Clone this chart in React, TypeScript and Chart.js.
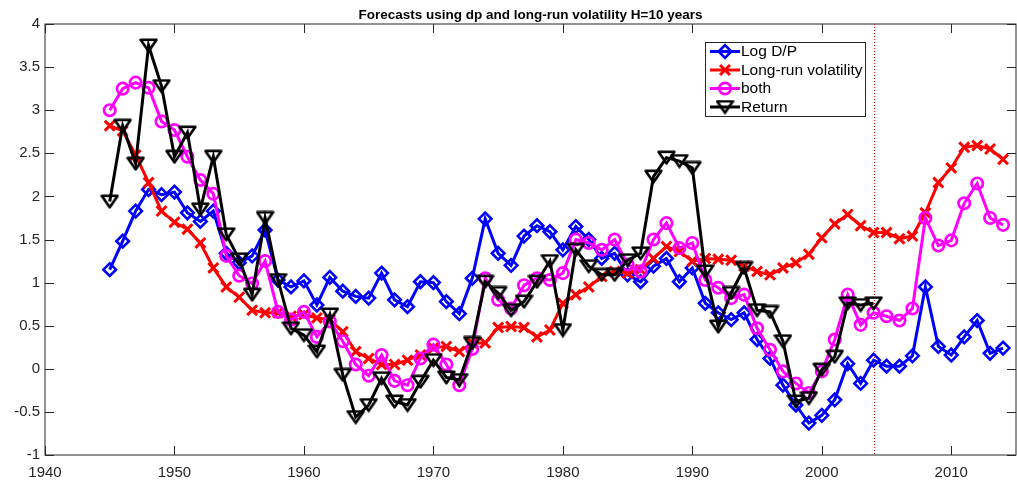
import React, { useEffect, useRef } from 'react';
import { Chart, registerables } from 'chart.js';
import { drawPoint } from 'chart.js/helpers';

Chart.register(...registerables);

const TITLE = 'Forecasts using dp and long-run volatility H=10 years';

const years = [
  1945, 1946, 1947, 1948, 1949, 1950, 1951, 1952, 1953, 1954,
  1955, 1956, 1957, 1958, 1959, 1960, 1961, 1962, 1963, 1964,
  1965, 1966, 1967, 1968, 1969, 1970, 1971, 1972, 1973, 1974,
  1975, 1976, 1977, 1978, 1979, 1980, 1981, 1982, 1983, 1984,
  1985, 1986, 1987, 1988, 1989, 1990, 1991, 1992, 1993, 1994,
  1995, 1996, 1997, 1998, 1999, 2000, 2001, 2002, 2003, 2004,
  2005, 2006, 2007, 2008, 2009, 2010, 2011, 2012, 2013, 2014,
];

const logDP = [
  1.15, 1.48, 1.83, 2.08, 2.02, 2.05, 1.81, 1.71, 1.83, 1.34,
  1.23, 1.31, 1.61, 1.03, 0.95, 1.02, 0.74, 1.06, 0.90, 0.84,
  0.82, 1.11, 0.80, 0.72, 1.01, 1.00, 0.78, 0.64, 1.05, 1.74,
  1.34, 1.20, 1.54, 1.66, 1.59, 1.38, 1.65, 1.50, 1.28, 1.34,
  1.09, 1.01, 1.19, 1.28, 1.01, 1.17, 0.76, 0.65, 0.57, 0.65,
  0.34, 0.12, -0.19, -0.42, -0.63, -0.54, -0.36, 0.06, -0.17, 0.10,
  0.03, 0.03, 0.15, 0.95, 0.26, 0.16, 0.37, 0.56, 0.18, 0.24,
];

const longRunVol = [
  2.82, 2.76, 2.48, 2.16, 1.83, 1.70, 1.62, 1.46, 1.17, 0.95,
  0.83, 0.68, 0.65, 0.65, 0.61, 0.63, 0.59, 0.57, 0.43, 0.20,
  0.12, 0.05, 0.05, 0.10, 0.16, 0.24, 0.26, 0.20, 0.30, 0.30,
  0.48, 0.49, 0.48, 0.37, 0.45, 0.76, 0.86, 0.95, 1.07, 1.13,
  1.11, 1.15, 1.28, 1.42, 1.36, 1.25, 1.28, 1.27, 1.26, 1.19,
  1.13, 1.09, 1.17, 1.23, 1.33, 1.52, 1.68, 1.79, 1.66, 1.58,
  1.58, 1.51, 1.54, 1.81, 2.16, 2.33, 2.57, 2.59, 2.55, 2.43,
];

const both = [
  3.00, 3.25, 3.32, 3.26, 2.87, 2.77, 2.46, 2.19, 2.03, 1.31,
  1.08, 0.99, 1.25, 0.66, 0.57, 0.66, 0.37, 0.55, 0.32, 0.05,
  -0.08, 0.16, -0.14, -0.19, 0.12, 0.28, 0.05, -0.19, 0.23, 1.05,
  0.80, 0.70, 0.97, 1.05, 1.03, 1.11, 1.50, 1.46, 1.38, 1.50,
  1.21, 1.13, 1.50, 1.69, 1.40, 1.46, 1.03, 0.94, 0.82, 0.86,
  0.47, 0.22, -0.03, -0.17, -0.28, -0.03, 0.34, 0.86, 0.51, 0.65,
  0.61, 0.56, 0.70, 1.75, 1.43, 1.49, 1.92, 2.15, 1.75, 1.67,
];

// Return series: 1945..2004
const returns = [
  1.94, 2.82, 2.38, 3.75, 3.28, 2.46, 2.74, 1.85, 2.46, 1.56,
  1.27, 0.86, 1.75, 1.03, 0.47, 0.39, 0.20, 0.63, -0.07, -0.56,
  -0.42, -0.11, -0.38, -0.42, -0.15, 0.10, -0.10, -0.13, 0.30, 1.01,
  0.88, 0.68, 0.78, 1.01, 1.25, 0.45, 1.38, 1.19, 1.09, 1.09,
  1.26, 1.34, 2.23, 2.45, 2.41, 2.33, 1.13, 0.49, 0.88, 1.17,
  0.68, 0.66, 0.32, -0.38, -0.34, -0.01, 0.14, 0.76, 0.74, 0.76,
];

const xTickValues = [1940, 1950, 1960, 1970, 1980, 1990, 2000, 2010];
const yTickValues = [-1, -0.5, 0, 0.5, 1, 1.5, 2, 2.5, 3, 3.5, 4];
const xMin = 1940;
const xMax = 2015;
const yMin = -1;
const yMax = 4;
const cutoffYear = 2004;

const seriesNames = ['Log D/P', 'Long-run volatility', 'both', 'Return'];

const FONT = '"Liberation Sans", Arial, Helvetica, sans-serif';
const AXIS_COLOR = '#262626';

function makeTriangle(): HTMLCanvasElement {
  const c = document.createElement('canvas');
  c.width = 19;
  c.height = 15;
  const g = c.getContext('2d')!;
  g.strokeStyle = '#000000';
  g.lineWidth = 2.6;
  g.lineJoin = 'round';
  g.beginPath();
  g.moveTo(1.6, 1.8);
  g.lineTo(17.4, 1.8);
  g.lineTo(9.5, 13.3);
  g.closePath();
  g.stroke();
  return c;
}

const zip = (xs: number[], ys: number[]) => ys.map((v, i) => ({ x: xs[i], y: v }));

const decorPlugin = {
  id: 'decor',
  beforeDatasetsDraw(chart: any) {
    const { ctx, chartArea: a, scales } = chart;
    const px = Math.round(scales.x.getPixelForValue(cutoffYear)) + 0.5;
    ctx.save();
    ctx.strokeStyle = '#ff0000';
    ctx.lineWidth = 1;
    ctx.setLineDash([1, 2]);
    ctx.beginPath();
    ctx.moveTo(px, a.top);
    ctx.lineTo(px, a.bottom);
    ctx.stroke();
    ctx.restore();
  },
  afterDatasetsDraw(chart: any) {
    const { ctx, chartArea: a, scales } = chart;
    ctx.save();
    ctx.strokeStyle = AXIS_COLOR;
    ctx.lineWidth = 1;
    ctx.strokeRect(a.left, a.top, a.right - a.left, a.bottom - a.top);
    const tl = 9;
    ctx.beginPath();
    for (const v of xTickValues) {
      const p = Math.round(scales.x.getPixelForValue(v)) + 0.5;
      ctx.moveTo(p, a.bottom);
      ctx.lineTo(p, a.bottom - tl);
      ctx.moveTo(p, a.top);
      ctx.lineTo(p, a.top + tl);
    }
    for (const v of yTickValues) {
      const p = Math.round(scales.y.getPixelForValue(v)) + 0.5;
      ctx.moveTo(a.left, p);
      ctx.lineTo(a.left + tl, p);
      ctx.moveTo(a.right, p);
      ctx.lineTo(a.right - tl, p);
    }
    ctx.stroke();
    ctx.restore();
  },
  afterDraw(chart: any) {
    const { ctx, chartArea: a } = chart;
    ctx.save();
    ctx.fillStyle = '#000000';
    ctx.font = 'bold 13.5px ' + FONT;
    ctx.textAlign = 'center';
    ctx.textBaseline = 'middle';
    ctx.fillText(TITLE, (a.left + a.right) / 2, 15);

    const lx = 705.5;
    const ly = 42.5;
    const lw = 160;
    const lh = 74;
    ctx.fillStyle = '#ffffff';
    ctx.fillRect(lx, ly, lw, lh);
    ctx.strokeStyle = AXIS_COLOR;
    ctx.lineWidth = 1;
    ctx.strokeRect(lx, ly, lw, lh);
    const rowY = [51.5, 70, 88.5, 107];
    chart.data.datasets.forEach((ds: any, i: number) => {
      const y = rowY[i];
      ctx.strokeStyle = ds.borderColor;
      ctx.lineWidth = ds.borderWidth;
      ctx.setLineDash([]);
      ctx.beginPath();
      ctx.moveTo(710, y);
      ctx.lineTo(740, y);
      ctx.stroke();
      ctx.strokeStyle = ds.pointBorderColor;
      ctx.fillStyle = 'rgba(0,0,0,0)';
      ctx.lineWidth = ds.pointBorderWidth;
      drawPoint(ctx, { pointStyle: ds.pointStyle, rotation: 0, radius: ds.pointRadius, borderWidth: ds.pointBorderWidth }, 725, y);
      ctx.fillStyle = '#000000';
      ctx.font = '15.5px ' + FONT;
      ctx.textAlign = 'left';
      ctx.textBaseline = 'middle';
      ctx.fillText(ds.label, 741, y + 0.5);
    });
    ctx.restore();
  },
};

export default function App() {
  const ref = useRef<HTMLCanvasElement | null>(null);

  useEffect(() => {
    document.body.style.margin = '0';
    const canvas = ref.current!;
    const tri = makeTriangle();
    const chart = new Chart(canvas, {
      type: 'line',
      data: {
        datasets: [
          {
            label: seriesNames[0],
            data: zip(years, logDP),
            borderColor: '#0000ff',
            borderWidth: 3,
            pointStyle: 'rectRot',
            pointRadius: 6.3,
            pointBorderWidth: 2.6,
            pointBorderColor: '#0000ff',
            pointBackgroundColor: 'rgba(0,0,0,0)',
            order: 4,
          },
          {
            label: seriesNames[1],
            data: zip(years, longRunVol),
            borderColor: '#ff0000',
            borderWidth: 3,
            pointStyle: 'crossRot',
            pointRadius: 7,
            pointBorderWidth: 3,
            pointBorderColor: '#ff0000',
            pointBackgroundColor: 'rgba(0,0,0,0)',
            order: 3,
          },
          {
            label: seriesNames[2],
            data: zip(years, both),
            borderColor: '#ff00ff',
            borderWidth: 3,
            pointStyle: 'circle',
            pointRadius: 5.7,
            pointBorderWidth: 2.7,
            pointBorderColor: '#ff00ff',
            pointBackgroundColor: 'rgba(0,0,0,0)',
            order: 2,
          },
          {
            label: seriesNames[3],
            data: zip(years, returns),
            borderColor: '#000000',
            borderWidth: 3,
            pointStyle: tri as any,
            pointRadius: 7,
            pointBorderWidth: 2.6,
            pointBorderColor: '#000000',
            pointBackgroundColor: 'rgba(0,0,0,0)',
            order: 1,
          },
        ],
      },
      options: {
        animation: false,
        responsive: false,
        devicePixelRatio: 1,
        events: [],
        layout: { autoPadding: false, padding: { top: 24, right: 1, left: 0, bottom: 0 } },
        elements: { line: { tension: 0 } },
        plugins: {
          legend: { display: false },
          tooltip: { enabled: false },
          title: { display: false },
        },
        scales: {
          x: {
            type: 'linear',
            min: xMin,
            max: xMax,
            grid: { display: false, drawTicks: false },
            border: { display: false },
            afterBuildTicks: (s: any) => {
              s.ticks = xTickValues.map((v) => ({ value: v }));
            },
            afterFit: (s: any) => {
              s.height = 28;
              s.paddingLeft = 0;
              s.paddingRight = 0;
            },
            ticks: {
              color: AXIS_COLOR,
              font: { family: FONT, size: 15 },
              padding: 9,
              maxRotation: 0,
              autoSkip: false,
              callback: (v: any) => String(v),
            },
          },
          y: {
            type: 'linear',
            min: yMin,
            max: yMax,
            grid: { display: false, drawTicks: false },
            border: { display: false },
            afterBuildTicks: (s: any) => {
              s.ticks = yTickValues.map((v) => ({ value: v }));
            },
            afterFit: (s: any) => {
              s.width = 45;
              s.paddingTop = 0;
              s.paddingBottom = 0;
            },
            ticks: {
              color: AXIS_COLOR,
              font: { family: FONT, size: 15 },
              padding: 5,
              autoSkip: false,
              callback: (v: any) => String(v),
            },
          },
        },
      },
      plugins: [decorPlugin],
    } as any);
    return () => chart.destroy();
  }, []);

  return (
    <div style={{ position: 'absolute', left: 0, top: 0, width: 1017, height: 483 }}>
      <canvas ref={ref} width={1017} height={483} />
    </div>
  );
}
